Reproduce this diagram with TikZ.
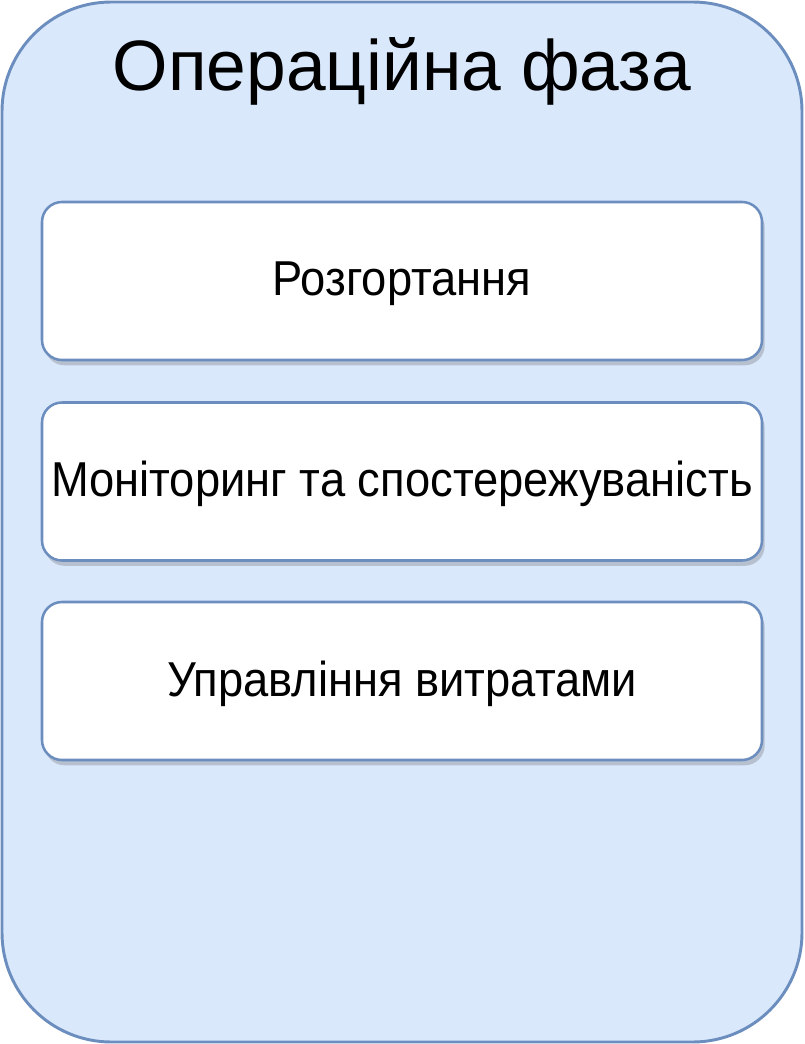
\documentclass[tikz,border=0pt]{standalone}
\usepackage{fontspec}
\setmainfont{Liberation Sans}
\newfontfamily\stagefont[FakeStretch=0.925]{Liberation Sans}
\usetikzlibrary{shadows}

\definecolor{phasefill}{HTML}{DAE8FC}
\definecolor{phaseline}{HTML}{6C8EBF}

\tikzset{
  phasebox/.style={draw=phaseline, fill=phasefill, line width=2.2pt,
    rounded corners=82pt},
  stagebox/.style={draw=phaseline, fill=white, line width=1.9pt,
    rounded corners=15pt, minimum width=540pt, minimum height=118.5pt,
    inner sep=0pt, font=\stagefont\fontsize{36.75}{40}\selectfont,
    text height=26pt, text depth=3.5pt,
    drop shadow={shadow xshift=2pt, shadow yshift=-4pt, opacity=0.25, fill=black!70}},
}

\begin{document}
\begin{tikzpicture}[x=0.75pt, y=-0.75pt]

  \useasboundingbox (0,0) rectangle (804,1044);

  \draw[phasebox] (2,2) rectangle (802,1042);

  \node[anchor=base, font=\fontsize{53.5}{56}\selectfont] (title) at (402,91) {Операційна фаза};

  \node[stagebox] (deploy) at (402,281) {Розгортання};
  \node[stagebox] (monitor) at (402,481.5) {Моніторинг та спостережуваність};
  \node[stagebox] (cost) at (402,681) {Управління витратами};

\end{tikzpicture}
\end{document}
